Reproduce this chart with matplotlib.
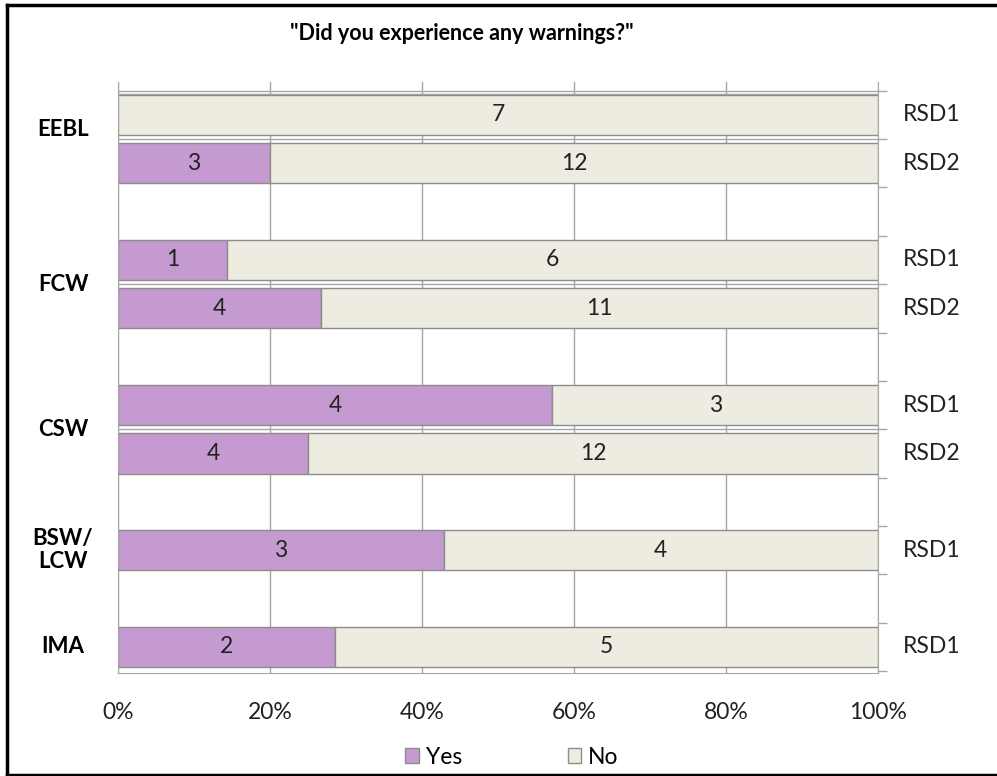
import matplotlib
matplotlib.use("Agg")
import numpy as np
import matplotlib.pyplot as plt
from matplotlib.lines import Line2D
from matplotlib.patches import Patch
from matplotlib.transforms import blended_transform_factory

plt.rcParams['font.family'] = ['Lato', 'DejaVu Sans']

# data
title = '"Did you experience any warnings?"'
groups = ['EEBL', 'FCW', 'CSW', 'BSW/\nLCW', 'IMA']
group_sizes = [2, 2, 2, 1, 1]
series = ['RSD1', 'RSD2', 'RSD1', 'RSD2', 'RSD1', 'RSD2', 'RSD1', 'RSD1']
yes = np.array([0, 3, 1, 4, 4, 4, 3, 2])
no = np.array([7, 12, 6, 11, 3, 12, 4, 5])
xticks = [0, 20, 40, 60, 80, 100]

# style
purple = '#C49AD1'
beige = '#EEECE1'
edge = '#8C8C8C'
grid = '#A6A6A6'
fs = 16.5

# slot positions: one empty slot between groups
pos = []
group_y = []
k = 0
for n in group_sizes:
    pos.extend(range(k, k + n))
    group_y.append(k + (n - 1) / 2)
    k += n + 1
pos = np.array(pos)
group_y[0] -= 0.2  # EEBL label sits a bit higher in the original

total = yes + no
p_yes = yes / total * 100
p_no = no / total * 100

fig = plt.figure(figsize=(9.97, 7.76), dpi=100)
ax = fig.add_axes([118 / 997, 1 - 673 / 776, 760 / 997, 591 / 776])

for x in xticks:
    ax.axvline(x, color=grid, lw=1, zorder=0)

h = 0.83
ax.barh(pos, p_yes, height=h, color=purple, edgecolor=edge, lw=1, zorder=2, label='Yes')
ax.barh(pos, p_no, left=p_yes, height=h, color=beige, edgecolor=edge, lw=1, zorder=2, label='No')

for y, py, pn, vy, vn in zip(pos, p_yes, p_no, yes, no):
    if vy > 0:
        ax.text(py / 2, y, str(vy), ha='center', va='center', fontsize=fs, color='#222222', zorder=3)
    if vn > 0:
        ax.text(py + pn / 2, y, str(vn), ha='center', va='center', fontsize=fs, color='#222222', zorder=3)

# thin lines between paired bars and at the top, as in the original
for b in [-0.5, -0.44, 0.5, 3.5, 6.5]:
    ax.axhline(b, color=grid, lw=1, zorder=1)

ax.set_xlim(0, 100)
ax.set_ylim(11.54, -0.68)
ax.set_xticks(xticks)
ax.set_xticklabels([f'{x}%' for x in xticks], fontsize=fs, color='#222222')
ax.tick_params(axis='x', length=0, pad=21)

ax.yaxis.tick_right()
ax.set_yticks(np.arange(-0.5, 12, 1))
ax.set_yticklabels([])
ax.tick_params(axis='y', direction='out', length=6.5, color=grid, width=1)

for s in ['left', 'right', 'bottom']:
    ax.spines[s].set_color(grid)
ax.spines['top'].set_visible(False)

tr = blended_transform_factory(ax.transAxes, ax.transData)
for y, s in zip(pos, series):
    ax.text(1.033, y, s, transform=tr, ha='left', va='center', fontsize=fs, color='#222222')

tl = blended_transform_factory(fig.transFigure, ax.transData)
for y, g in zip(group_y, groups):
    ax.text(63 / 997, y, g, transform=tl, ha='center', va='center', fontsize=16,
            fontweight='bold', linespacing=1.1, color='black')

fig.text(462 / 997, 1 - 33 / 776, title, ha='center', va='center', fontsize=15.5, fontweight='bold')

handles = [Patch(facecolor=purple, edgecolor=edge, label='Yes'),
           Patch(facecolor=beige, edgecolor=edge, label='No')]
fig.legend(handles=handles, loc='center', bbox_to_anchor=(512 / 997, 1 - 757 / 776), ncol=2,
           frameon=False, fontsize=fs, handlelength=0.6, handleheight=0.6, handletextpad=0.3,
           columnspacing=4.6)

# outer frame (left, top, bottom)
fig.add_artist(Line2D([7 / 997, 7 / 997], [1 - 5 / 776, 1 - 775 / 776], transform=fig.transFigure, color='black', lw=2.5))
fig.add_artist(Line2D([7 / 997, 1], [1 - 5 / 776, 1 - 5 / 776], transform=fig.transFigure, color='black', lw=2.5))
fig.add_artist(Line2D([7 / 997, 1], [1 - 775 / 776, 1 - 775 / 776], transform=fig.transFigure, color='black', lw=2.5))

fig.savefig('out.png', dpi=100)
